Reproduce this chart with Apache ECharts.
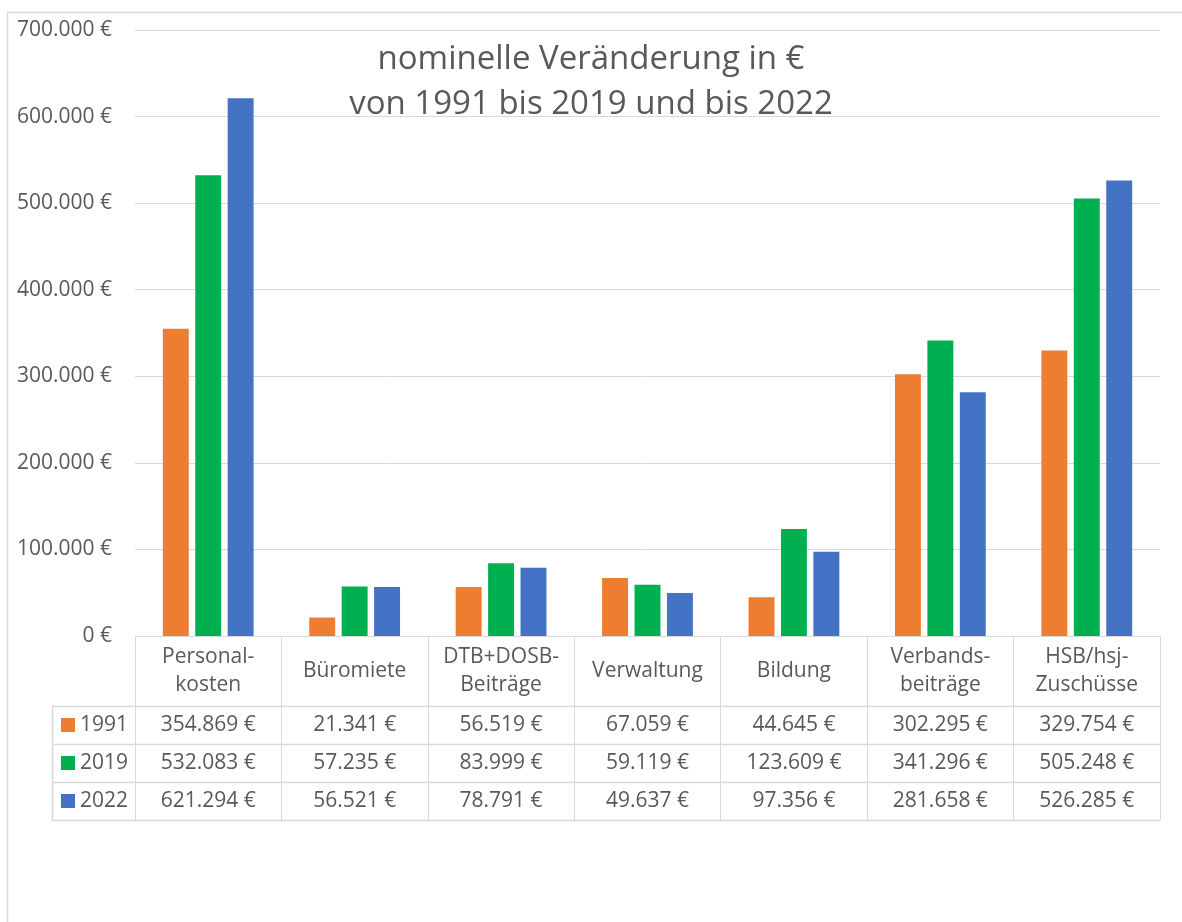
<!DOCTYPE html>
<html>
<head>
<meta charset="utf-8">
<script src="https://cdn.jsdelivr.net/npm/echarts@6/dist/echarts.min.js"></script>
<style>
  html, body { margin: 0; padding: 0; background: #fff; }
  #chart { width: 1182px; height: 922px; }
</style>
</head>
<body>
<div id="chart"></div>
<script>
// Kategorien und Werte (nominell in €)
const categories = ['Personal-\nkosten', 'Büromiete', 'DTB+DOSB-\nBeiträge', 'Verwaltung', 'Bildung', 'Verbands-\nbeiträge', 'HSB/hsj-\nZuschüsse'];
const years = ['1991', '2019', '2022'];
const values1991 = [354869, 21341, 56519, 67059, 44645, 302295, 329754];
const values2019 = [532083, 57235, 83999, 59119, 123609, 341296, 505248];
const values2022 = [621294, 56521, 78791, 49637, 97356, 281658, 526285];
const colors = ['#ED7D31', '#00B050', '#4472C4'];

const textColor = '#595959';
const lineColor = '#D9D9D9';
const font = '"Open Sans", "Noto Sans", sans-serif';
const fs = 21;

function euro(v) {
  const s = String(Math.round(v)).replace(/\B(?=(\d{3})+(?!\d))/g, '.');
  return s + ' €';
}

const chart = echarts.init(document.getElementById('chart'));

const seriesData = [values1991, values2019, values2022];

chart.setOption({
  animation: false,
  textStyle: { fontFamily: font },
  title: {
    text: 'nominelle Veränderung in €\nvon 1991 bis 2019 und bis 2022',
    left: 'center',
    top: 32,
    textStyle: {
      fontFamily: font,
      fontSize: 33,
      fontWeight: 'normal',
      color: textColor,
      lineHeight: 45
    }
  },
  grid: { left: 135, right: 22, top: 30, bottom: 286, containLabel: false },
  xAxis: {
    type: 'category',
    data: categories,
    axisLine: { lineStyle: { color: lineColor, width: 1 } },
    axisTick: { show: true, length: 184, lineStyle: { color: lineColor } },
    axisLabel: {
      margin: 35,
      verticalAlign: 'middle',
      color: textColor,
      fontSize: fs,
      lineHeight: 28,
      fontFamily: font,
      interval: 0
    }
  },
  yAxis: {
    type: 'value',
    min: 0,
    max: 700000,
    interval: 100000,
    axisLine: { show: false },
    axisTick: { show: false },
    splitLine: { lineStyle: { color: lineColor, width: 1 } },
    axisLabel: {
      margin: 23,
      color: textColor,
      fontSize: fs,
      fontFamily: font,
      formatter: euro
    }
  },
  series: years.map((y, i) => ({
    name: y,
    type: 'bar',
    data: seriesData[i],
    itemStyle: { color: colors[i] },
    barGap: '25%',
    barCategoryGap: '38%'
  }))
});

// Datentabelle unter dem Diagramm
const baseY = chart.convertToPixel({ yAxisIndex: 0 }, 0);
const colW = chart.convertToPixel({ xAxisIndex: 0 }, 1) - chart.convertToPixel({ xAxisIndex: 0 }, 0);
const leftX = chart.convertToPixel({ xAxisIndex: 0 }, 0) - colW / 2;
const rightX = leftX + colW * categories.length;
const headerH = 70;
const rowH = 38;
const keyLeft = 52;
const tableBottom = baseY + headerH + rowH * years.length;

const graphics = [];
graphics.push({
  type: 'rect',
  shape: { x: 7.5, y: 12.5, width: 1300, height: 1000 },
  style: { fill: 'none', stroke: lineColor, lineWidth: 1.5 },
  silent: true
});
for (let r = 0; r <= years.length; r++) {
  const y = Math.round(baseY + headerH + r * rowH) + 0.5;
  graphics.push({
    type: 'line',
    shape: { x1: keyLeft, y1: y, x2: rightX, y2: y },
    style: { stroke: lineColor, lineWidth: 1.5 }
  });
}
graphics.push({
  type: 'line',
  shape: { x1: keyLeft + 0.5, y1: baseY + headerH, x2: keyLeft + 0.5, y2: tableBottom },
  style: { stroke: lineColor, lineWidth: 1.5 }
});
years.forEach((yr, r) => {
  const cy = baseY + headerH + r * rowH + rowH / 2;
  graphics.push({
    type: 'rect',
    shape: { x: 61, y: cy - 7, width: 14, height: 14 },
    style: { fill: colors[r] }
  });
  graphics.push({
    type: 'text',
    x: 80, y: cy,
    style: { text: yr, fill: textColor, fontSize: fs, fontFamily: font, align: 'left', verticalAlign: 'middle' }
  });
  seriesData[r].forEach((v, c) => {
    graphics.push({
      type: 'text',
      x: chart.convertToPixel({ xAxisIndex: 0 }, c), y: cy,
      style: { text: euro(v), fill: textColor, fontSize: fs, fontFamily: font, align: 'center', verticalAlign: 'middle' }
    });
  });
});

chart.setOption({ graphic: graphics });
</script>
</body>
</html>
